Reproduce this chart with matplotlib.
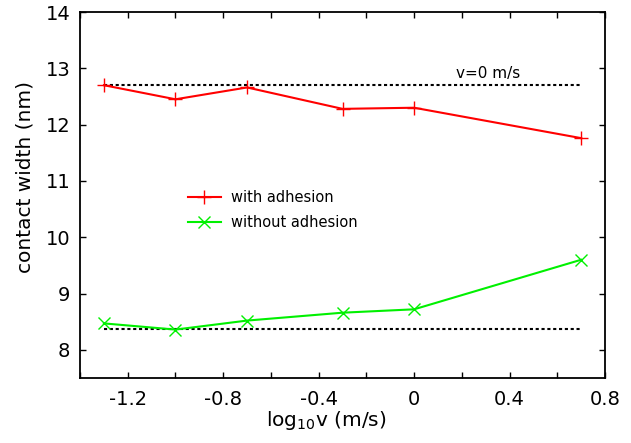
import matplotlib
matplotlib.use("Agg")
import matplotlib.pyplot as plt
from matplotlib.ticker import MultipleLocator

plt.rcParams['font.family'] = ['DejaVu Sans']
plt.rcParams['mathtext.default'] = 'regular'

log_v = [-1.3, -1.0, -0.7, -0.3, 0.0, 0.7]
with_adhesion = [12.70, 12.45, 12.66, 12.28, 12.30, 11.76]
without_adhesion = [8.47, 8.36, 8.52, 8.66, 8.72, 9.60]
static_with = 12.70
static_without = 8.37

x_ticks = [-1.2, -0.8, -0.4, 0, 0.4, 0.8]
x_ticklabels = ['-1.2', '-0.8', '-0.4', '0', '0.4', '0.8']
y_ticks = [8, 9, 10, 11, 12, 13, 14]

fig = plt.figure(figsize=(6.31, 4.43), dpi=100)
ax = fig.add_axes([0.1268, 0.1467, 0.8320, 0.8262])

# reference levels at v = 0
dots = (0, (1.5, 1.3))
ax.plot([log_v[0], log_v[-1]], [static_with] * 2, color='black', ls=dots, lw=1.5)
ax.plot([log_v[0], log_v[-1]], [static_without] * 2, color='black', ls=dots, lw=1.5)

ax.plot(log_v, with_adhesion, color='#ff0000', lw=1.5, marker='+', ms=9.5, mew=1.0,
        label='with adhesion')
ax.plot(log_v, without_adhesion, color='#00f000', lw=1.5, marker='x', ms=8, mew=1.0,
        label='without adhesion')

ax.text(0.31, 12.78, 'v=0 m/s', ha='center', va='bottom', fontsize=11)

ax.set_xlim(-1.4, 0.8)
ax.set_ylim(7.5, 14)
ax.set_xticks(x_ticks)
ax.set_xticklabels(x_ticklabels)
ax.xaxis.set_minor_locator(MultipleLocator(0.2))
ax.set_yticks(y_ticks)

ax.tick_params(which='both', direction='in', top=True, right=True, length=4, width=1,
               labelsize=14)
ax.tick_params(axis='x', which='both', pad=8.5)
ax.tick_params(axis='y', which='both', pad=7)
for sp in ax.spines.values():
    sp.set_linewidth(1.3)

ax.set_xlabel(r'log$_{10}$v (m/s)', fontsize=14.5, va='top')
ax.set_ylabel('contact width (nm)', fontsize=14.5)
ax.xaxis.set_label_coords(0.469, -0.086)
ax.yaxis.set_label_coords(-0.086, 0.549)

ax.legend(loc='center left', bbox_to_anchor=(0.205, 0.459), frameon=False, fontsize=10.5,
          handlelength=2.3, handletextpad=0.7, labelspacing=0.7, borderpad=0,
          borderaxespad=0)

fig.savefig('out.png', dpi=100)
